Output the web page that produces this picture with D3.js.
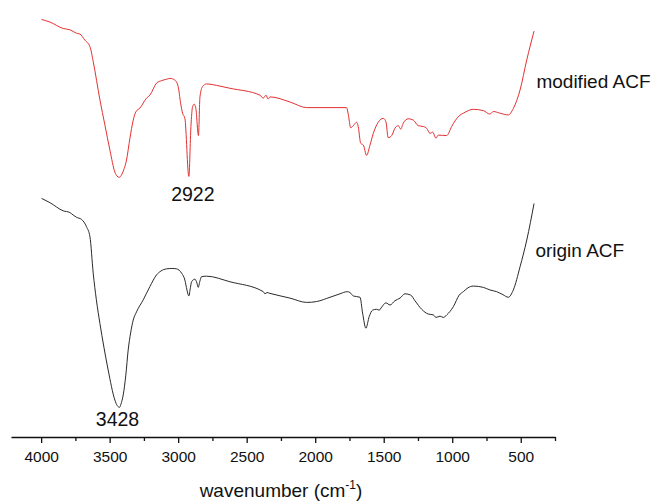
<!DOCTYPE html>
<html>
<head>
<meta charset="utf-8">
<script src="https://cdn.jsdelivr.net/npm/d3@7"></script>
<style>
  html, body { margin: 0; padding: 0; background: #fff; }
  svg { display: block; font-family: "Liberation Sans", Arial, sans-serif; }
</style>
</head>
<body>
<script>
// FTIR spectra: wavenumber (cm-1) and transmittance (a.u.)
const modifiedWn = [3997, 3936, 3839, 3790, 3742, 3717, 3681, 3644, 3620, 3571, 3535, 3498, 3462, 3447, 3431, 3416, 3404,
  3377, 3352, 3328, 3309, 3279, 3231, 3206, 3158, 3119, 3085, 3060, 3024, 3000, 2982, 2968, 2951, 2922, 2907,
  2895, 2883, 2871, 2852, 2841, 2822, 2793, 2695, 2622, 2403, 2379, 2360, 2343, 2330, 2184, 2062, 1892, 1771,
  1759, 1741, 1722, 1698, 1686, 1668, 1649, 1625, 1600, 1576, 1540, 1503, 1484, 1467, 1442, 1418, 1394, 1376,
  1357, 1321, 1284, 1248, 1211, 1187, 1162, 1143, 1119, 1102, 1041, 1004, 980, 949, 919, 846, 773, 725, 700,
  651, 591, 554, 505, 456, 403];
const modifiedT = [97.1, 96.5, 95.0, 94.7, 93.9, 93.7, 92.3, 90.8, 87.3, 78.4, 72.6, 66.7, 61.6, 60.7, 60.4, 60.8, 61.6,
  64.4, 69.5, 73.7, 75.6, 76.5, 78.8, 79.5, 82.3, 82.9, 83.2, 83.4, 83.0, 81.5, 77.6, 75.3, 74.1, 60.6, 72.2,
  76.8, 77.4, 76.4, 70.1, 79.1, 81.5, 82.1, 81.6, 81.1, 79.5, 78.8, 79.5, 78.6, 79.1, 77.9, 76.6, 76.6, 76.6,
  75.1, 71.9, 72.4, 73.2, 72.2, 68.3, 67.9, 65.5, 67.9, 70.6, 73.2, 74.1, 73.3, 69.6, 70.1, 71.8, 72.4, 71.6,
  73.0, 74.0, 73.7, 72.4, 72.2, 71.8, 70.6, 70.9, 69.5, 70.2, 70.1, 72.2, 73.5, 74.7, 75.3, 76.2, 75.9, 75.1, 75.7,
  75.3, 74.9, 76.4, 80.7, 87.7, 94.4];

const originWn = [3997, 3936, 3839, 3790, 3766, 3742, 3705, 3669, 3644, 3620, 3597, 3571, 3542, 3511, 3462,
  3445, 3428, 3418, 3401, 3382, 3365, 3347, 3328, 3304, 3255, 3206, 3158, 3126, 3085, 3046, 3012, 2975, 2951, 2936,
  2922, 2911, 2902, 2878, 2863, 2854, 2841, 2829, 2793, 2622, 2379, 2367, 2352, 2330, 2184, 2062, 1990, 1892,
  1819, 1766, 1746, 1722, 1673, 1654, 1630, 1606, 1581, 1552, 1533, 1515, 1484, 1454, 1418, 1381, 1345, 1303,
  1272, 1223, 1175, 1138, 1119, 1089, 1065, 1040, 992, 949, 919, 885, 846, 773, 725, 676, 630, 591, 554, 505,
  456, 403];
const originT = [55.5, 54.5, 52.6, 52.2, 51.6, 51.1, 50.6, 48.9, 46.6, 38.1, 31.9, 26.4, 20.9, 15.6, 8.6,
  7.3, 6.9, 7.6, 9.8, 14.4, 20.2, 24.2, 27.2, 29.1, 31.9, 35.0, 37.7, 38.6, 39.1, 39.2, 39.1, 38.1, 36.5, 34.2,
  32.8, 34.7, 36.1, 36.7, 35.8, 34.8, 36.3, 37.3, 37.4, 36.1, 33.8, 33.3, 33.6, 33.4, 32.3, 31.3, 31.5, 32.5,
  33.3, 33.8, 33.6, 32.8, 32.5, 28.8, 25.3, 28.0, 29.5, 29.7, 29.5, 30.2, 31.2, 30.7, 31.7, 32.3, 33.3, 33.0,
  31.7, 29.7, 28.6, 28.4, 27.8, 28.1, 27.8, 28.4, 30.3, 33.0, 33.8, 34.7, 35.1, 34.8, 34.2, 33.8, 33.1, 32.5, 34.2, 39.6,
  45.8, 54.3];

const majorTicks = [4000, 3500, 3000, 2500, 2000, 1500, 1000, 500];
const minorTicks = [3750, 3250, 2750, 2250, 1750, 1250, 750, 250];
const seriesNames = ["modified ACF", "origin ACF"];
const peakWn = [2922, 3428];

const width = 656, height = 501;

const svg = d3.select("body").append("svg")
  .attr("width", width)
  .attr("height", height);

const x = d3.scaleLinear().domain([4220, 250]).range([11, 555]);
const y = d3.scaleLinear().domain([0, 100]).range([437, 7]);

const line = d3.line()
  .x(d => x(d[0]))
  .y(d => y(d[1]))
  .curve(d3.curveMonotoneX);

const modified = modifiedWn.map((w, i) => [w, modifiedT[i]]);
const origin = originWn.map((w, i) => [w, originT[i]]);

svg.append("path")
  .datum(modified)
  .attr("fill", "none")
  .attr("stroke", "#e43030")
  .attr("stroke-width", 1)
  .attr("d", line);

svg.append("path")
  .datum(origin)
  .attr("fill", "none")
  .attr("stroke", "#2a2a2a")
  .attr("stroke-width", 1)
  .attr("d", line);

// x axis, major ticks with labels
const xAxis = svg.append("g")
  .attr("transform", `translate(0,${y(0)})`)
  .call(d3.axisBottom(x).tickValues(majorTicks).tickSize(6).tickSizeOuter(0).tickPadding(8)
    .tickFormat(d3.format("d")));
xAxis.select(".domain").attr("stroke", "#111").attr("stroke-width", 1.3);
xAxis.selectAll(".tick line").attr("stroke", "#111").attr("stroke-width", 1.3);
xAxis.selectAll(".tick text")
  .attr("font-family", "Liberation Sans, Arial, sans-serif")
  .attr("font-size", 15.5)
  .attr("fill", "#111");

// minor ticks
const minor = svg.append("g")
  .attr("transform", `translate(0,${y(0)})`)
  .call(d3.axisBottom(x).tickValues(minorTicks).tickSize(4).tickSizeOuter(0).tickFormat(""));
minor.select(".domain").remove();
minor.selectAll(".tick line").attr("stroke", "#111").attr("stroke-width", 1.3);

// axis title
const title = svg.append("text")
  .attr("x", 281)
  .attr("y", 497)
  .attr("text-anchor", "middle")
  .attr("font-size", 19)
  .attr("fill", "#111");
title.append("tspan").text("wavenumber (cm");
title.append("tspan").attr("font-size", 12).attr("dy", -8).text("-1");
title.append("tspan").attr("dy", 8).text(")");

// series labels
svg.append("text")
  .attr("x", x(400) + 2)
  .attr("y", 88)
  .attr("font-size", 19)
  .attr("fill", "#111")
  .text(seriesNames[0]);

svg.append("text")
  .attr("x", x(400) + 1)
  .attr("y", 256.5)
  .attr("font-size", 19)
  .attr("fill", "#111")
  .text(seriesNames[1]);

// peak labels
svg.append("text")
  .attr("x", x(peakWn[0]) + 4)
  .attr("y", 200.5)
  .attr("text-anchor", "middle")
  .attr("font-size", 19.5)
  .attr("fill", "#111")
  .text(peakWn[0]);

svg.append("text")
  .attr("x", x(peakWn[1]) - 2)
  .attr("y", 426)
  .attr("text-anchor", "middle")
  .attr("font-size", 19.5)
  .attr("fill", "#111")
  .text(peakWn[1]);
</script>
</body>
</html>
